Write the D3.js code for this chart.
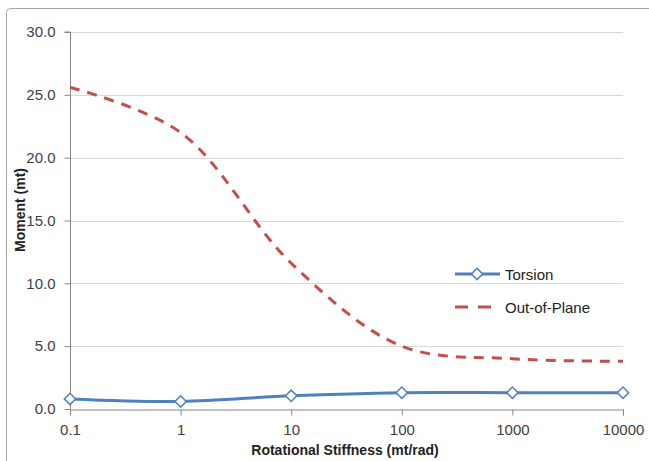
<!DOCTYPE html>
<html>
<head>
<meta charset="utf-8">
<script src="https://cdn.jsdelivr.net/npm/d3@7"></script>
<style>
  html, body { margin: 0; padding: 0; background: #fff; }
  svg { display: block; font-family: "Liberation Sans", Arial, sans-serif; }
</style>
</head>
<body>
<svg id="chart" width="649" height="461"></svg>
<script>
// ---- data ----
const stiffness = [0.1, 1, 10, 100, 1000, 10000];
const torsion = [0.8, 0.6, 1.05, 1.3, 1.3, 1.3];
const outOfPlane = [25.6, 22.0, 11.6, 5.0, 4.0, 3.8];
const yTicks = [0, 5, 10, 15, 20, 25, 30];
const xTickLabels = ["0.1", "1", "10", "100", "1000", "10000"];
const seriesNames = ["Torsion", "Out-of-Plane"];

const svg = d3.select("#chart");
const plot = { left: 70, right: 623, top: 32, bottom: 409 };

// outer border (left/top visible)
svg.append("rect").attr("x", 6.5).attr("y", 8.5).attr("width", 700).attr("height", 500)
  .attr("rx", 4).attr("fill", "none").attr("stroke", "#a6a6a6").attr("stroke-width", 1);

const x = d3.scaleLog().domain([0.1, 10000]).range([plot.left, plot.right]);
const y = d3.scaleLinear().domain([0, 30]).range([plot.bottom, plot.top]);

// gridlines
svg.append("g").selectAll("line").data(yTicks.filter(d => d > 0)).join("line")
  .attr("x1", plot.left).attr("x2", plot.right)
  .attr("y1", d => Math.round(y(d)) + 0.5).attr("y2", d => Math.round(y(d)) + 0.5)
  .attr("stroke", "#d9d9d9").attr("stroke-width", 1);

// y axis
const yAxis = d3.axisLeft(y).tickValues(yTicks).tickFormat(d3.format(".1f")).tickSize(6).tickPadding(9);
const gy = svg.append("g").attr("transform", `translate(${plot.left + 0.5},0)`).call(yAxis);
// x axis
const xAxis = d3.axisBottom(x).tickValues(stiffness).tickFormat((d, i) => xTickLabels[i]).tickSize(6).tickPadding(9);
const gx = svg.append("g").attr("transform", `translate(0,${plot.bottom + 0.5})`).call(xAxis);

[gx, gy].forEach(g => {
  g.select(".domain").attr("stroke", "#868686");
  g.selectAll(".tick line").attr("stroke", "#868686");
  g.selectAll(".tick text").attr("fill", "#404040").style("font-size", "15px")
    .style("font-family", "'Liberation Sans', Arial, sans-serif");
});
gy.select(".domain").attr("d", `M-6,${y(30)}H0V${plot.bottom + 0.5}`);

// axis titles
svg.append("text").attr("x", 345).attr("y", 455).attr("text-anchor", "middle")
  .style("font-size", "14px").style("font-weight", "bold").attr("fill", "#222")
  .text("Rotational Stiffness (mt/rad)");
svg.append("text").attr("transform", "translate(25,210) rotate(-90)").attr("text-anchor", "middle")
  .style("font-size", "14px").style("font-weight", "bold").attr("fill", "#222")
  .text("Moment (mt)");

const blue = "#4f81bd", red = "#c0504d";
const curve = d3.curveCatmullRom.alpha(0.5);
const line = vals => d3.line().curve(curve).x((d, i) => x(stiffness[i])).y(d => y(d))(vals);

svg.append("path").attr("d", line(outOfPlane)).attr("fill", "none")
  .attr("stroke", red).attr("stroke-width", 3).attr("stroke-dasharray", "10,8");
svg.append("path").attr("d", line(torsion)).attr("fill", "none")
  .attr("stroke", blue).attr("stroke-width", 3);

svg.append("g").selectAll("path").data(torsion).join("path")
  .attr("d", d3.symbol().type(d3.symbolSquare).size(64))
  .attr("transform", (d, i) => `translate(${x(stiffness[i])},${y(d)}) rotate(45)`)
  .attr("fill", "#fff").attr("stroke", blue).attr("stroke-width", 1.5);

// legend
const lg = svg.append("g");
lg.append("line").attr("x1", 455).attr("x2", 500).attr("y1", 274).attr("y2", 274)
  .attr("stroke", blue).attr("stroke-width", 3);
lg.append("path").attr("d", d3.symbol().type(d3.symbolSquare).size(64))
  .attr("transform", "translate(477,274) rotate(45)")
  .attr("fill", "#fff").attr("stroke", blue).attr("stroke-width", 1.5);
lg.append("text").attr("x", 505).attr("y", 280).text(seriesNames[0])
  .style("font-size", "15px").attr("fill", "#222");
lg.append("line").attr("x1", 455).attr("x2", 491).attr("y1", 307).attr("y2", 307)
  .attr("stroke", red).attr("stroke-width", 3).attr("stroke-dasharray", "13,10");
lg.append("text").attr("x", 505).attr("y", 313).text(seriesNames[1])
  .style("font-size", "15px").attr("fill", "#222");
</script>
</body>
</html>
